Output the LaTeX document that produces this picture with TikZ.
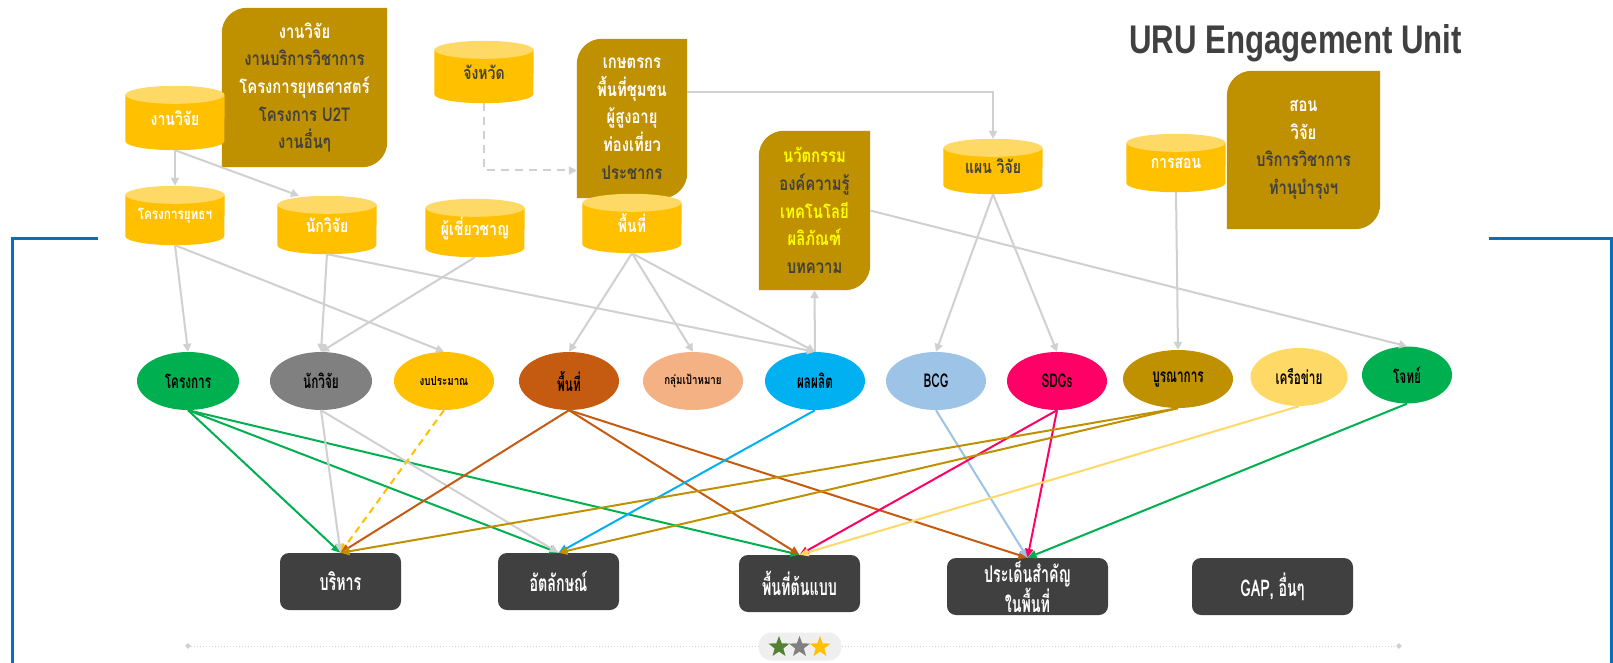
\documentclass[tikz,border=0pt]{standalone}
\usepackage{fontspec}
\setmainfont{Loma}[Script=Thai]
\newfontfamily\thai[Script=Thai,FakeStretch=0.78]{Loma}
\newfontfamily\thaic[Script=Thai,FakeStretch=0.62]{Loma}
\newfontfamily\titlef[FakeStretch=0.78]{Liberation Sans}
\usetikzlibrary{shapes.geometric,arrows.meta}
\pgfdeclarelayer{bg}
\pgfsetlayers{bg,main}
\definecolor{gold}{HTML}{FFC000}
\definecolor{goldtop}{HTML}{FFD966}
\definecolor{brownbox}{HTML}{BF9000}
\definecolor{dark}{HTML}{404040}
\definecolor{conn}{HTML}{D0D0D0}
\definecolor{cgreen}{HTML}{00B050}
\definecolor{cgray}{HTML}{808080}
\definecolor{corange}{HTML}{C55A11}
\definecolor{cpeach}{HTML}{F4B183}
\definecolor{ccyan}{HTML}{00B0F0}
\definecolor{cblue}{HTML}{9DC3E6}
\definecolor{cpink}{HTML}{FF0066}
\definecolor{cyell}{HTML}{FFD966}
\definecolor{frameblue}{HTML}{0070C0}
\definecolor{brightyel}{HTML}{FFFF00}
\definecolor{pillgray}{HTML}{EFEFEF}
\definecolor{stargreen}{HTML}{548235}
\newcommand\cyltext[1]{\raisebox{-5pt}{#1}}
\newcommand\cylfill[1]{%
  \fill[gold] ([yshift=-9pt]#1.north west) -- ([yshift=9pt]#1.south west)
    arc[start angle=180,end angle=360,x radius=49.5pt,y radius=9pt]
    -- ([yshift=-9pt]#1.north east) -- cycle;
  \fill[goldtop] ([yshift=-9pt]#1.north) ellipse[x radius=49.5pt,y radius=9pt];}
\newcommand\boxfill[1]{%
  \fill[brownbox] (#1.south west) -- ([yshift=-25pt]#1.north west)
    arc[start angle=180,end angle=90,radius=25pt] -- (#1.north east)
    -- ([yshift=25pt]#1.south east) arc[start angle=0,end angle=-90,radius=25pt] -- cycle;}
\tikzset{
  cylnode/.style={minimum width=99pt, inner sep=0pt, text=white,
    font=\thai\bfseries\fontsize{18}{20}\selectfont},
  bboxnode/.style={inner sep=0pt, align=center,
    font=\thai\bfseries\fontsize{19}{27.7}\selectfont},
  ell/.style={ellipse, inner sep=0pt, minimum width=100pt, minimum height=58pt,
    text=black, font=\thaic\bfseries\fontsize{19}{21}\selectfont},
  smallell/.style={font=\thai\bfseries\fontsize{12.5}{14}\selectfont},
  dbox/.style={fill=dark, rounded corners=9pt, inner sep=0pt, text=white, align=center,
    minimum width=121pt, minimum height=57pt,
    font=\thaic\bfseries\fontsize{23}{26}\selectfont},
  gline/.style={draw=conn, line width=2pt, -{Triangle[length=8pt,width=8pt]}},
  cline/.style={line width=2pt, -{Triangle[length=9pt,width=8pt]}},
  starnode/.style={star, star points=5, star point ratio=2.4, inner sep=0pt, minimum size=22pt},
  endmark/.style={diamond, fill=conn, inner sep=0pt, minimum size=6pt}
}
\begin{document}
\begin{tikzpicture}[x=1pt,y=-1pt]
\useasboundingbox (0,0) rectangle (1613,663);
\begin{pgfonlayer}{bg}
  \fill[white] (0,0) rectangle (1613,663);
\end{pgfonlayer}
% frame
\draw[frameblue, line width=3pt] (97.7,238.6) -| (12.3,663);
\draw[frameblue, line width=3pt] (1488.5,238.6) -| (1611,663);
% title
\node[anchor=base west, inner sep=0pt, text=dark,
  font=\titlef\bfseries\fontsize{40}{48}\selectfont] (title) at (1129,53.5) {URU Engagement Unit};
% brown boxes
\node[bboxnode, minimum width=165pt, minimum height=159pt] (boxA) at (304.5,87.5)
  {\textcolor{white}{งานวิจัย}\\\textcolor{dark}{งานบริการวิชาการ}\\\textcolor{white}{โครงการยุทธศาสตร์}\\\textcolor{dark}{โครงการ U2T}\\\textcolor{dark}{งานอื่นๆ}};
\node[bboxnode, minimum width=110pt, minimum height=159pt] (boxB) at (632,118.5)
  {\textcolor{white}{เกษตรกร}\\\textcolor{white}{พื้นที่ชุมชน}\\\textcolor{white}{ผู้สูงอายุ}\\\textcolor{white}{ท่องเที่ยว}\\\textcolor{dark}{ประชากร}};
\node[bboxnode, minimum width=111pt, minimum height=159pt] (boxC) at (814.5,210.5)
  {\textcolor{brightyel}{นวัตกรรม}\\\textcolor{dark}{องค์ความรู้}\\\textcolor{brightyel}{เทคโนโลยี}\\\textcolor{brightyel}{ผลิภัณฑ์}\\\textcolor{dark}{บทความ}};
\node[bboxnode, minimum width=153pt, minimum height=158pt] (boxD) at (1303.5,150)
  {\textcolor{white}{สอน}\\\textcolor{white}{วิจัย}\\\textcolor{dark}{บริการวิชาการ}\\\textcolor{dark}{ทำนุบำรุงฯ}};
% cylinders
\node[cylnode, minimum height=64pt] (res) at (175,118) {\cyltext{งานวิจัย}};
\node[cylnode, minimum height=59pt, font=\thai\bfseries\fontsize{15}{17}\selectfont] (strat) at (175,215.5) {\cyltext{โครงการยุทธฯ}};
\node[cylnode, minimum height=58pt] (rsr) at (327,225) {\cyltext{นักวิจัย}};
\node[cylnode, minimum height=58pt] (exp) at (475,228) {\cyltext{ผู้เชี่ยวชาญ}};
\node[cylnode, minimum height=62pt, text=dark] (prov) at (484,72) {\cyltext{จังหวัด}};
\node[cylnode, minimum height=59pt] (area) at (632,223.5) {\cyltext{พื้นที่}};
\node[cylnode, minimum height=55pt, text=dark] (plan) at (993,166.5) {\cyltext{แผน วิจัย}};
\node[cylnode, minimum height=58pt] (teach) at (1176,163) {\cyltext{การสอน}};
\begin{pgfonlayer}{bg}
  \boxfill{boxA}\boxfill{boxB}\boxfill{boxC}\boxfill{boxD}
  \cylfill{res}\cylfill{strat}\cylfill{rsr}\cylfill{exp}
  \cylfill{prov}\cylfill{area}\cylfill{plan}\cylfill{teach}
\end{pgfonlayer}
% ellipses
\node[ell, fill=cgreen, minimum width=102pt] (e1) at (188,381) {โครงการ};
\node[ell, fill=cgray, minimum width=102pt] (e2) at (321,381) {นักวิจัย};
\node[ell, smallell, fill=gold] (e3) at (444,381) {งบประมาณ};
\node[ell, fill=corange] (e4) at (569,381) {พื้นที่};
\node[ell, smallell, fill=cpeach] (e5) at (693,381) {กลุ่มเป้าหมาย};
\node[ell, fill=ccyan] (e6) at (815,381) {ผลผลิต};
\node[ell, fill=cblue] (e7) at (936,381) {BCG};
\node[ell, fill=cpink] (e8) at (1057,381) {SDGs};
\node[ell, fill=brownbox, minimum width=110pt] (e9) at (1178,379) {บูรณาการ};
\node[ell, fill=cyell, minimum width=97pt] (e10) at (1299,377) {เครือข่าย};
\node[ell, fill=cgreen, minimum width=90pt, minimum height=57pt] (e11) at (1407,375) {โจทย์};
% bottom boxes
\node[dbox] (b1) at (340.5,581.5) {บริหาร};
\node[dbox] (b2) at (558.5,581.5) {อัตลักษณ์};
\node[dbox] (b3) at (799.5,583.5) {พื้นที่ต้นแบบ};
\node[dbox, minimum width=161pt] (b4) at (1027.5,586.5) {ประเด็นสำคัญ\\ในพื้นที่};
\node[dbox, minimum width=161pt] (b5) at (1272.5,586.5) {GAP, อื่นๆ};
% gray connectors
\draw[gline] (res.south) -- (strat.north);
\draw[gline] (res.south) -- ([xshift=-28pt]rsr.north);
\draw[gline, dash pattern=on 8pt off 6pt] (prov.south) |- ([yshift=-52pt]boxB.west);
\draw[gline] ([yshift=26pt]boxB.east) -| (plan.north);
\draw[gline] (strat.south) -- (e1.north);
\draw[gline] (strat.south) -- (e3.north);
\draw[gline] (rsr.south) -- (e2.north);
\draw[gline] (rsr.south) -- (e6.north);
\draw[gline] (exp.south) -- (e2.north);
\draw[gline] (area.south) -- (e4.north);
\draw[gline] (area.south) -- (e5.north);
\draw[gline] (area.south) -- (e6.north);
\draw[gline] (e6.north) -- (boxC.south);
\draw[gline] (plan.south) -- (e7.north);
\draw[gline] (plan.south) -- (e8.north);
\draw[gline] (boxC.east) -- (e11.north);
\draw[gline] (teach.south) -- (e9.north);
% coloured connectors
\draw[cline, cgreen] (e1.south) -- (b1.north);
\draw[cline, cgreen] (e1.south) -- (b2.north);
\draw[cline, cgreen] (e1.south) -- (b3.north);
\draw[cline, conn] (e2.south) -- (b1.north);
\draw[cline, conn] (e2.south) -- (b2.north);
\draw[cline, gold, dash pattern=on 7pt off 5pt] (e3.south) -- (b1.north);
\draw[cline, corange] (e4.south) -- (b1.north);
\draw[cline, corange] (e4.south) -- (b3.north);
\draw[cline, corange] (e4.south) -- (b4.north);
\draw[cline, ccyan] (e6.south) -- (b2.north);
\draw[cline, cblue] (e7.south) -- (b4.north);
\draw[cline, cpink] (e8.south) -- (b3.north);
\draw[cline, cpink] (e8.south) -- (b4.north);
\draw[cline, brownbox] (e9.south) -- (b1.north);
\draw[cline, brownbox] (e9.south) -- (b2.north);
\draw[cline, cyell] (e10.south) -- (b3.north);
\draw[cline, cgreen] (e11.south) -- (b4.north);
% bottom decoration
\node[endmark] (dl) at (188,646) {};
\node[endmark] (dr) at (1399,646) {};
\draw[conn, line width=1pt, dotted] (dl) -- (dr);
\node[fill=pillgray, rounded corners=13pt, minimum width=83pt, minimum height=28pt, inner sep=0pt] (pill) at (800,646.5) {};
\node[starnode, fill=stargreen] (s1) at (779,647) {};
\node[starnode, fill=cgray] (s2) at (799.5,647) {};
\node[starnode, fill=gold] (s3) at (820,647) {};
\end{tikzpicture}
\end{document}
